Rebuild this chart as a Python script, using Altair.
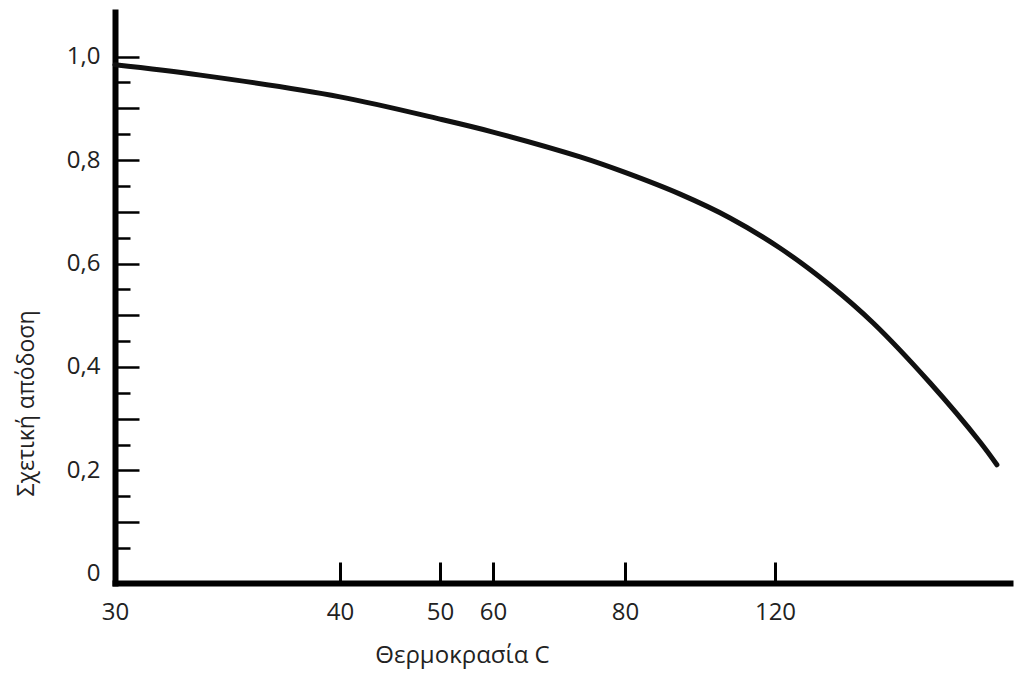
import altair as alt
import pandas as pd

# Curve: temperature (C) and relative efficiency
temps = [30, 33.8, 40, 50, 60, 73.2, 80, 94.7, 108, 121.3, 134.7, 146.2, 161.4, 174.7, 179.2]
vals = [0.984, 0.964, 0.922, 0.879, 0.854, 0.806, 0.776, 0.734, 0.688, 0.630, 0.558, 0.485, 0.369, 0.255, 0.211]

x_label_values = [30, 40, 50, 60, 80, 120]
x_inner_ticks = [40, 50, 60, 80, 120]
y_label_values = [0, 0.2, 0.4, 0.6, 0.8, 1.0]
y_tenth_ticks = [0.1, 0.2, 0.3, 0.4, 0.5, 0.6, 0.7, 0.8, 0.9, 1.0]
y_half_ticks = [0.05, 0.15, 0.25, 0.35, 0.45, 0.55, 0.65, 0.75, 0.85, 0.95]

# the printed temperature axis is not evenly spaced: piecewise-linear scale
x_breaks = [30, 40, 50, 60, 80, 120, 182.7]
x_break_pos = [0, 225, 325, 378, 510, 660, 895]

df = pd.DataFrame({"t": temps, "v": vals})

FONT = "Open Sans"
TXT = "#222222"

xscale = alt.Scale(type="linear", domain=x_breaks, range=x_break_pos, nice=False, zero=False)
yscale = alt.Scale(domain=[-0.0174, 1.086], nice=False, zero=False)

line = alt.Chart(df).mark_line(
    color="#111111", strokeWidth=5, interpolate="catmull-rom", strokeCap="round"
).encode(
    x=alt.X(
        "t:Q",
        scale=xscale,
        axis=alt.Axis(
            orient="bottom", values=x_label_values, ticks=False, grid=False,
            domainWidth=6, domainColor="#000000", domainCap="square",
            labelFont=FONT, labelFontSize=24, labelColor=TXT, labelPadding=17,
            labelFlush=False, labelOverlap=False,
            title="Θερμοκρασία C", titleFont=FONT, titleFontSize=24,
            titleFontWeight="normal", titleColor=TXT,
            titleX=347, titleY=72, titleBaseline="middle", titleAlign="center",
        ),
    ),
    y=alt.Y(
        "v:Q",
        scale=yscale,
        axis=alt.Axis(
            orient="left", values=y_label_values, ticks=False, grid=False,
            domainWidth=6, domainColor="#000000", domainCap="square",
            labelFont=FONT, labelFontSize=24, labelColor=TXT, labelPadding=15,
            labelFlush=False, labelOverlap=False,
            labelExpr="datum.value == 0 ? '0' : replace(format(datum.value, '.1f'), '.', ',')",
            title="Σχετική απόδοση", titleFont=FONT, titleFontSize=23,
            titleFontWeight="normal", titleColor=TXT,
            titleX=-89, titleY=391, titleBaseline="middle", titleAlign="center",
        ),
    ),
)

major_ticks = alt.Chart(df).mark_line(opacity=0).encode(
    x=alt.X(
        "t:Q", scale=xscale, title=None,
        axis=alt.Axis(
            orient="bottom", offset=-21, values=x_inner_ticks, ticks=True,
            tickSize=21, tickWidth=3, tickColor="#000000",
            labels=False, domain=False, grid=False,
        ),
    ),
    y=alt.Y(
        "v:Q", scale=yscale, title=None,
        axis=alt.Axis(
            orient="left", offset=-24, values=y_tenth_ticks, ticks=True,
            tickSize=24, tickWidth=2.5, tickColor="#000000",
            labels=False, domain=False, grid=False,
        ),
    ),
)

minor_ticks = alt.Chart(df).mark_line(opacity=0).encode(
    x=alt.X("t:Q", scale=xscale, axis=None),
    y=alt.Y(
        "v:Q", scale=yscale, title=None,
        axis=alt.Axis(
            orient="left", offset=-15, values=y_half_ticks, ticks=True,
            tickSize=15, tickWidth=2.5, tickColor="#000000",
            labels=False, domain=False, grid=False,
        ),
    ),
)

chart = (
    alt.layer(line, major_ticks, minor_ticks)
    .resolve_axis(x="independent", y="independent")
    .properties(
        width=895, height=571,
        autosize=alt.AutoSizeParams(type="none"),
        padding={"left": 107, "top": 4, "right": 4, "bottom": 88},
        background="white",
    )
    .configure_view(stroke=None)
)

chart.save("out.html", embed_options={"renderer": "svg", "actions": False})
